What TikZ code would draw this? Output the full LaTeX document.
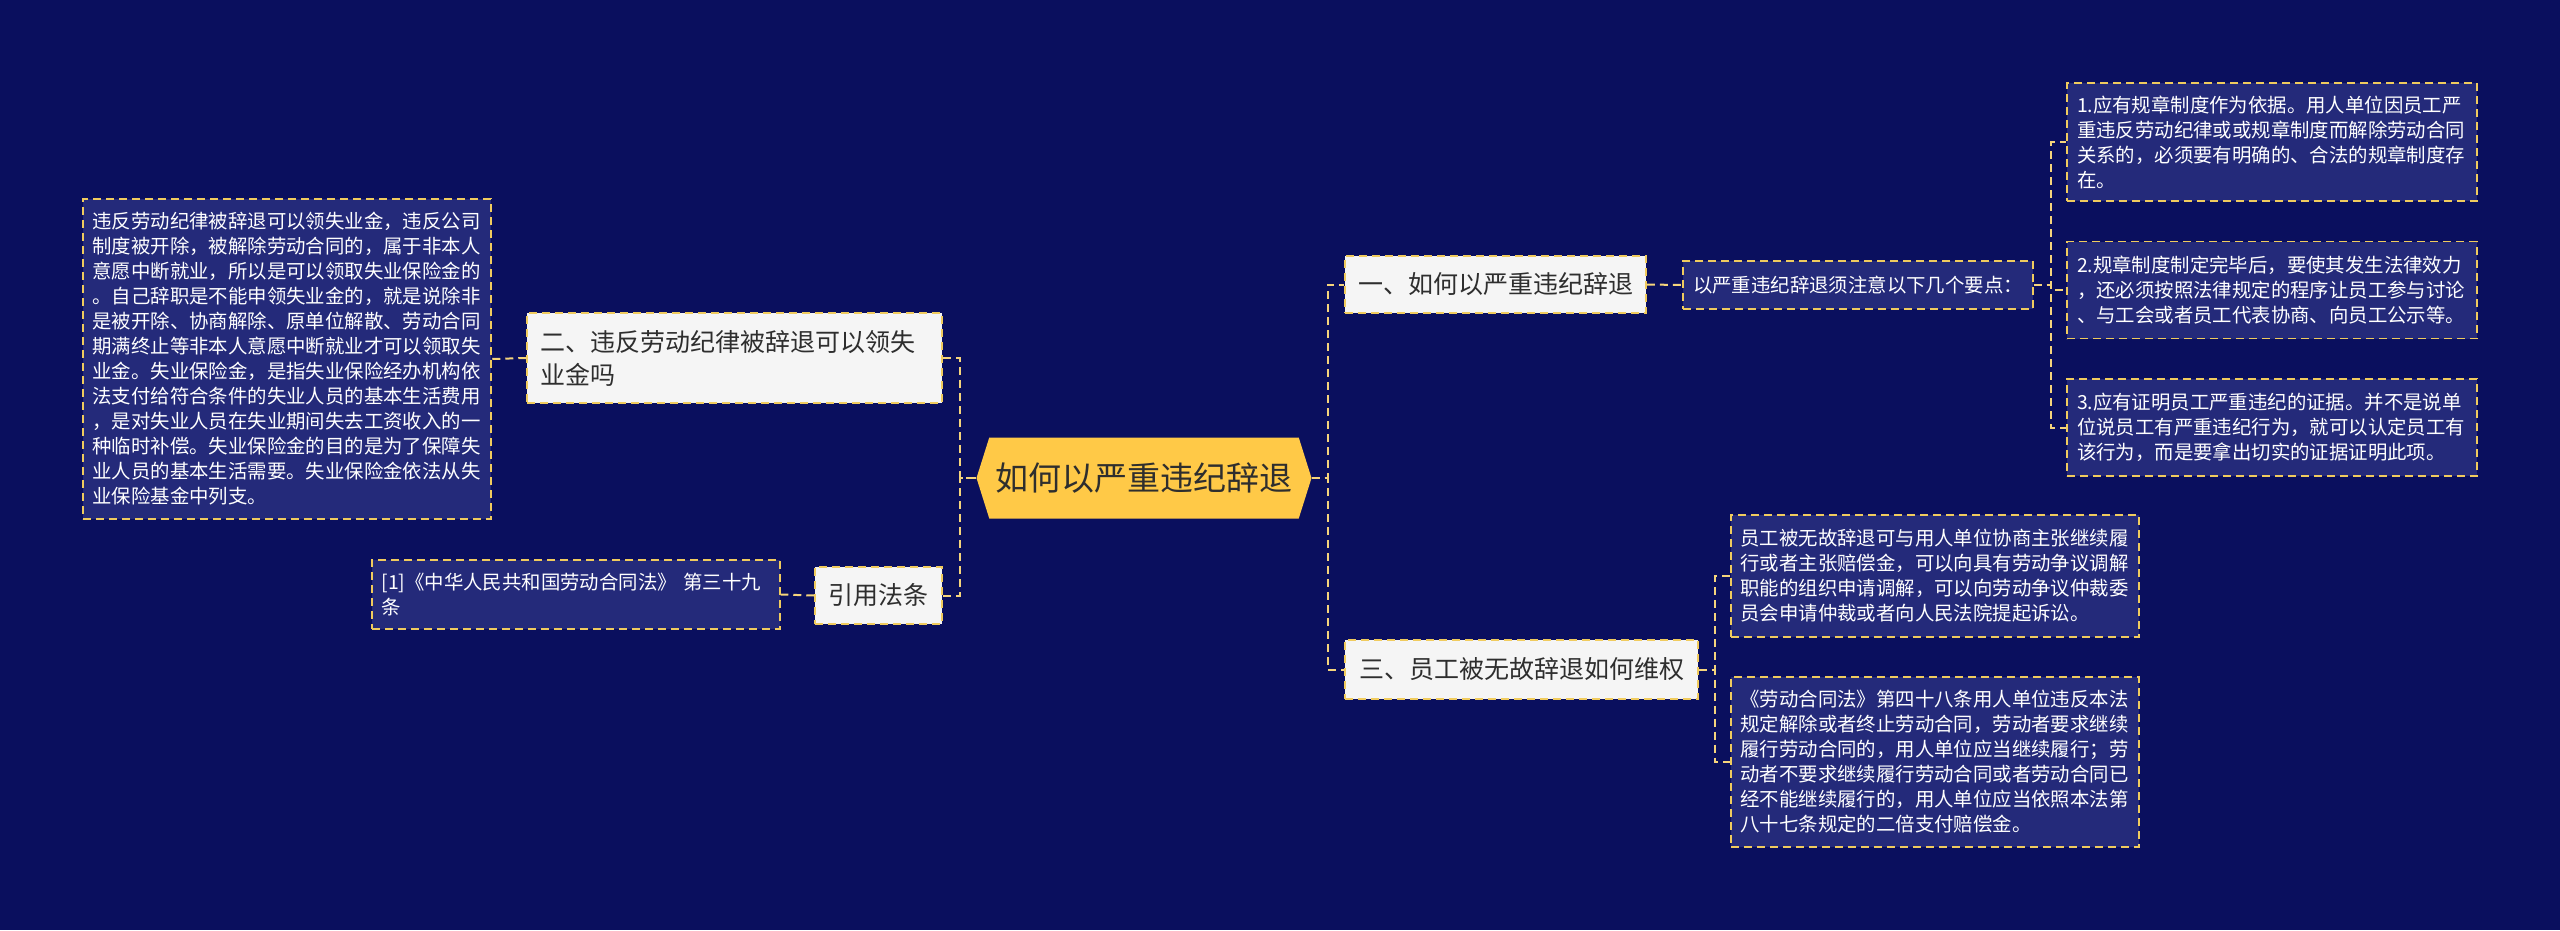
\documentclass[tikz,border=0pt]{standalone}
\usepackage{fontspec}
\setmainfont{Noto Sans CJK SC}
\usetikzlibrary{shapes.symbols}
\definecolor{bgnavy}{HTML}{0A0F5E}
\definecolor{leafnavy}{HTML}{242A7A}
\definecolor{edgegold}{HTML}{F0CB5E}
\definecolor{linkgold}{HTML}{F5D47C}
\definecolor{hubyellow}{HTML}{FFC947}
\definecolor{topicgrey}{HTML}{F5F5F5}
\definecolor{inkdark}{HTML}{2E2E2E}

\begin{document}
\begin{tikzpicture}[x=1pt,y=-1pt,
    hub/.style={shape=signal, signal to=west and east, signal pointer angle=145,
      fill=hubyellow, text=inkdark, minimum width=335pt, minimum height=81pt,
      inner sep=0pt, font=\fontsize{33}{40}\selectfont},
    topic/.style={draw=edgegold, fill=topicgrey, text=inkdark, line width=1.5pt,
      dash pattern=on 8pt off 5pt, inner sep=0pt, align=left,
      font=\fontsize{25}{33}\selectfont},
    leaf/.style={draw=edgegold, fill=leafnavy, text=white, line width=1.5pt,
      dash pattern=on 8pt off 5pt, inner sep=0pt, align=left,
      font=\fontsize{19.4}{25}\selectfont},
    link/.style={draw=linkgold, line width=2pt, dash pattern=on 8pt off 5pt}]
  \fill[bgnavy] (0,0) rectangle (2560,930);
  \useasboundingbox (0,0) rectangle (2560,930);

  % centre
  \node[hub] (hub) at (1144,478) {如何以严重违纪辞退};

  % left side
  \node[topic, minimum width=415pt, minimum height=90pt, text width=389pt] (fire) at (734.5,358)
    {二、违反劳动纪律被辞退可以领失\\业金吗};
  \node[topic, minimum width=127pt, minimum height=57pt] (cite) at (878.5,595.5) {引用法条};
  \node[leaf, minimum width=408pt, minimum height=320pt, text width=389pt] (fireText) at (287,359)
    {违反劳动纪律被辞退可以领失业金，违反公司\\
     制度被开除，被解除劳动合同的，属于非本人\\
     意愿中断就业，所以是可以领取失业保险金的\\
     。自己辞职是不能申领失业金的，就是说除非\\
     是被开除、协商解除、原单位解散、劳动合同\\
     期满终止等非本人意愿中断就业才可以领取失\\
     业金。失业保险金，是指失业保险经办机构依\\
     法支付给符合条件的失业人员的基本生活费用\\
     ，是对失业人员在失业期间失去工资收入的一\\
     种临时补偿。失业保险金的目的是为了保障失\\
     业人员的基本生活需要。失业保险金依法从失\\
     业保险基金中列支。};
  \node[leaf, minimum width=408pt, minimum height=69pt, text width=389pt] (citeText) at (576,594.5)
    {[1]《中华人民共和国劳动合同法》 第三十九\\条};

  % right side
  \node[topic, minimum width=301pt, minimum height=57pt] (how) at (1495.5,284.5) {一、如何以严重违纪辞退};
  \node[topic, minimum width=353pt, minimum height=59pt] (rights) at (1521.5,669.5) {三、员工被无故辞退如何维权};
  \node[leaf, minimum width=350pt, minimum height=48pt] (howText) at (1858,285)
    {以严重违纪辞退须注意以下几个要点：};
  \node[leaf, minimum width=410pt, minimum height=118pt, text width=390pt] (ruleOne) at (2272,142)
    {1.应有规章制度作为依据。用人单位因员工严\\
     重违反劳动纪律或或规章制度而解除劳动合同\\
     关系的，必须要有明确的、合法的规章制度存\\
     在。};
  \node[leaf, minimum width=410pt, minimum height=97pt, text width=390pt] (ruleTwo) at (2272,290)
    {2.规章制度制定完毕后，要使其发生法律效力\\
     ，还必须按照法律规定的程序让员工参与讨论\\
     、与工会或者员工代表协商、向员工公示等。};
  \node[leaf, minimum width=410pt, minimum height=97pt, text width=390pt] (ruleThree) at (2272,427.5)
    {3.应有证明员工严重违纪的证据。并不是说单\\
     位说员工有严重违纪行为，就可以认定员工有\\
     该行为，而是要拿出切实的证据证明此项。};
  \node[leaf, minimum width=408pt, minimum height=122pt, text width=389pt] (rightsOne) at (1935,576)
    {员工被无故辞退可与用人单位协商主张继续履\\
     行或者主张赔偿金，可以向具有劳动争议调解\\
     职能的组织申请调解，可以向劳动争议仲裁委\\
     员会申请仲裁或者向人民法院提起诉讼。};
  \node[leaf, minimum width=408pt, minimum height=170pt, text width=389pt] (rightsTwo) at (1935,762)
    {《劳动合同法》第四十八条用人单位违反本法\\
     规定解除或者终止劳动合同，劳动者要求继续\\
     履行劳动合同的，用人单位应当继续履行；劳\\
     动者不要求继续履行劳动合同或者劳动合同已\\
     经不能继续履行的，用人单位应当依照本法第\\
     八十七条规定的二倍支付赔偿金。};

  % connectors
  \draw[link] (fire.east) -- ++(17,0) |- (hub.west);
  \draw[link] (cite.east) -- ++(17,0) |- (hub.west);
  \draw[link] (fire.west) -- (fireText.east);
  \draw[link] (cite.west) -- (citeText.east);
  \draw[link] (hub.east) -- ++(16,0) |- (how.west);
  \draw[link] (hub.east) -- ++(16,0) |- (rights.west);
  \draw[link] (how.east) -- (howText.west);
  \draw[link] (howText.east) -- ++(17,0) |- (ruleOne.west);
  \draw[link] (howText.east) -- ++(17,0) |- (ruleTwo.west);
  \draw[link] (howText.east) -- ++(17,0) |- (ruleThree.west);
  \draw[link] (rights.east) -- ++(16,0) |- (rightsOne.west);
  \draw[link] (rights.east) -- ++(16,0) |- (rightsTwo.west);
\end{tikzpicture}
\end{document}
